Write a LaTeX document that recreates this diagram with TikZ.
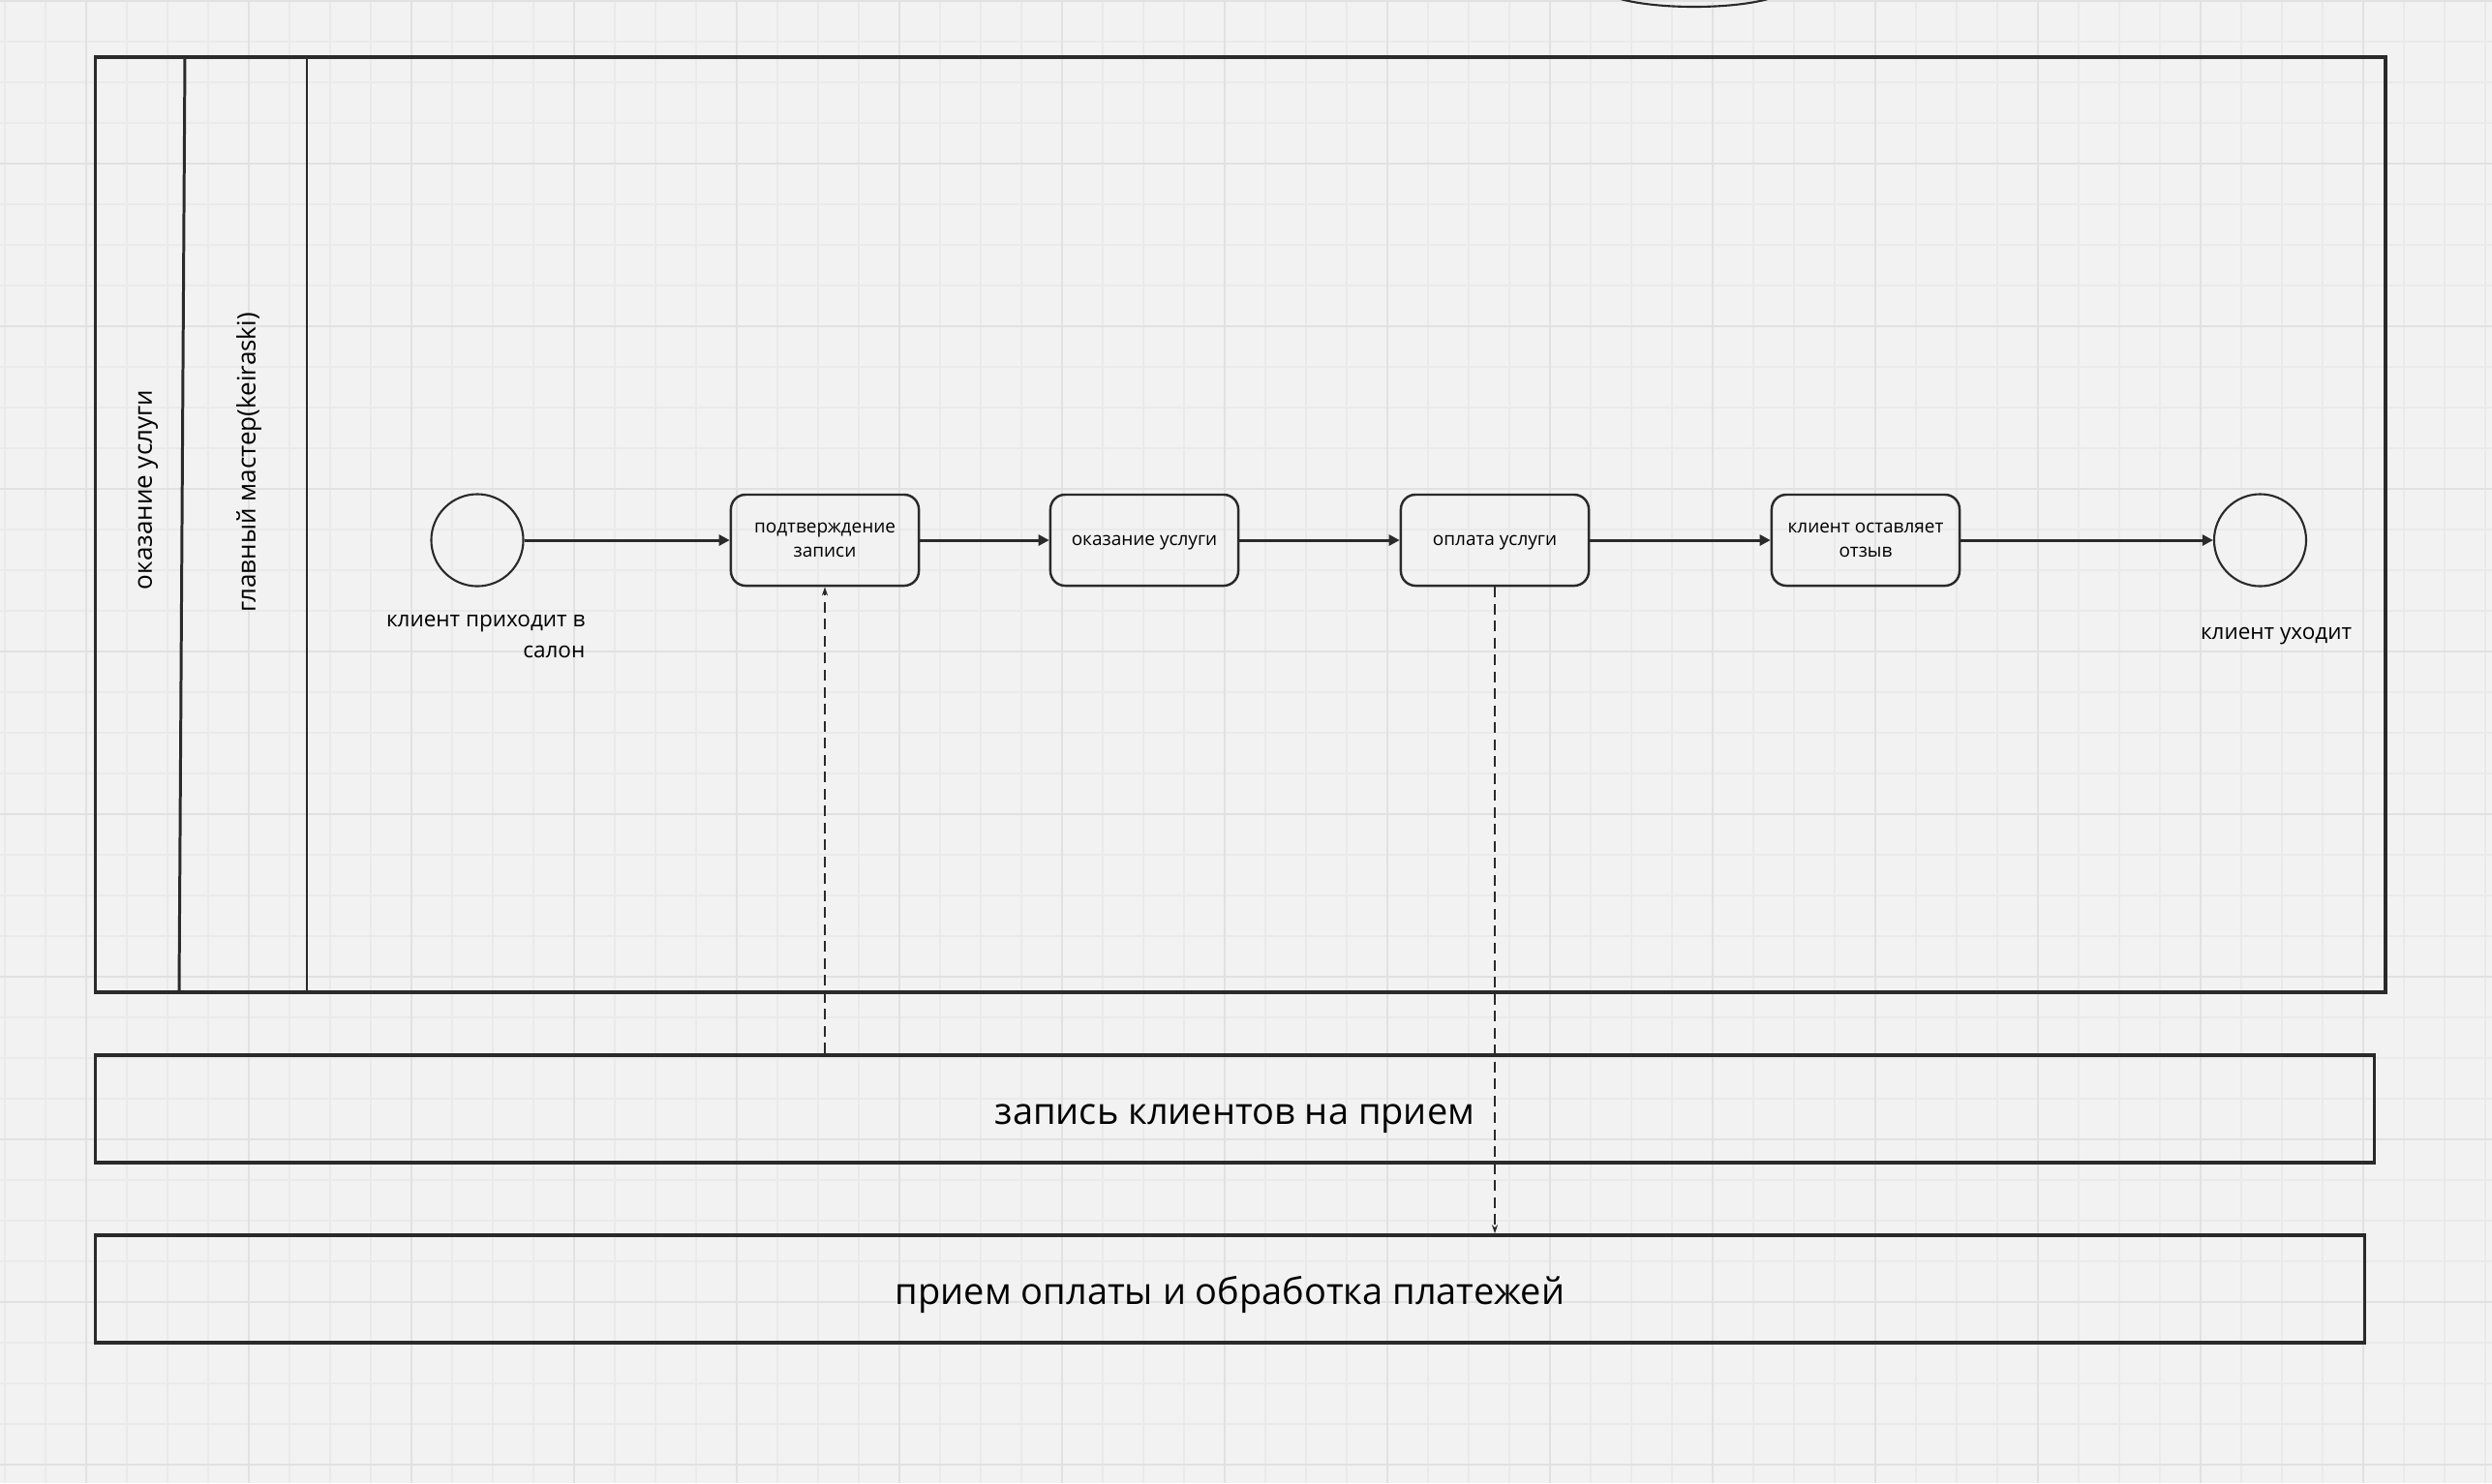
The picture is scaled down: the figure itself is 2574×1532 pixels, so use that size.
\documentclass[tikz,border=0pt]{standalone}
\usepackage{fontspec}
\setmainfont{Open Sans}
\usepackage{tikz}
\usetikzlibrary{arrows.meta}
\definecolor{board}{HTML}{F2F2F2}
\definecolor{gridfine}{HTML}{EAEAEA}
\definecolor{gridbold}{HTML}{E1E1E1}
\definecolor{ink}{HTML}{2A2A2A}

\begin{document}
\begin{tikzpicture}[x=0.01cm,y=-0.01cm,
    task/.style={draw=ink,line width=0.7pt,rounded corners=4.3pt,minimum width=1.94cm,minimum height=0.94cm,inner sep=0pt,text depth=0pt,align=center,font=\fontsize{5.4}{7.1}\selectfont},
    event/.style={circle,draw=ink,line width=0.6pt,minimum size=0.95cm,inner sep=0pt},
    evtext/.style={inner sep=0pt,font=\fontsize{6.4}{9.1}\selectfont},
    lanetext/.style={rotate=90,inner sep=0pt,font=\fontsize{7.4}{9}\selectfont},
    poolbox/.style={draw=ink,line width=1pt,minimum height=1.11cm,inner sep=0pt,text height=9pt,text depth=0pt,font=\fontsize{10.8}{13}\selectfont},
    flow/.style={draw=ink,line width=0.85pt,-{Triangle[length=0.11cm,width=0.11cm]}},
    msg/.style={draw=ink,line width=0.55pt,dash pattern=on 0.11cm off 0.065cm,-{Stealth[length=0.09cm,width=0.06cm]}}]
    \useasboundingbox (0,0) rectangle (2574,1532);
    \clip (0,0) rectangle (2574,1532);
    \fill[board] (0,0) rectangle (2574,1532);
    \foreach \x in {0,...,61}
    \draw[gridfine,line width=0.3pt] (5+42*\x,0) -- (5+42*\x,1532);
    \foreach \y in {0,...,36}
    \draw[gridfine,line width=0.3pt] (0,1+42*\y) -- (2574,1+42*\y);
    \foreach \x in {0,...,14}
    \draw[gridbold,line width=0.55pt] (89+168*\x,0) -- (89+168*\x,1532);
    \foreach \y in {0,...,9}
    \draw[gridbold,line width=0.55pt] (0,1+168*\y) -- (2574,1+168*\y);
    \draw[ink,line width=0.6pt] (1750,-13) ellipse [x radius=95,y radius=20];
    % pool and lanes
    \draw[ink,line width=1pt] (98.5,59) rectangle (2464,1025);
    \draw[ink,line width=0.85pt] (191,59) -- (185,1025);
    \draw[ink,line width=0.85pt] (317,59) -- (317,1025);
    \node[lanetext] (lanetask) at (153,506) {оказание услуги};
    \node[lanetext] (lanemaster) at (257,478) {главный мастер(keiraski)};
    \node[event] (arrive) at (493,558) {};
    \node[task] (confirm) at (852,558) {подтверждение\\записи};
    \node[task] (service) at (1182,558) {оказание услуги};
    \node[task] (payment) at (1544,558) {оплата услуги};
    \node[task] (review) at (1927,558) {клиент оставляет\\отзыв};
    \node[event] (leave) at (2334.5,558) {};
    \node[evtext,anchor=east,align=right] (arrivetext) at (605,657) {клиент приходит в\\салон};
    \node[evtext] (leavetext) at (2351,657) {клиент уходит};
    \foreach \a/\b in {arrive/confirm,confirm/service,service/payment,payment/review,review/leave}
    \draw[flow] (\a) -- (\b);
    \node[poolbox,minimum width=23.53cm] (booking) at (1275.5,1145.5) {запись клиентов на прием};
    \node[poolbox,minimum width=23.43cm] (billing) at (1270.5,1331.5) {прием оплаты и обработка платежей};
    \draw[msg] (booking.north -| confirm.south) -- (confirm.south);
    \draw[msg] (payment.south) -- (payment.south |- billing.north);
\end{tikzpicture}
\end{document}
